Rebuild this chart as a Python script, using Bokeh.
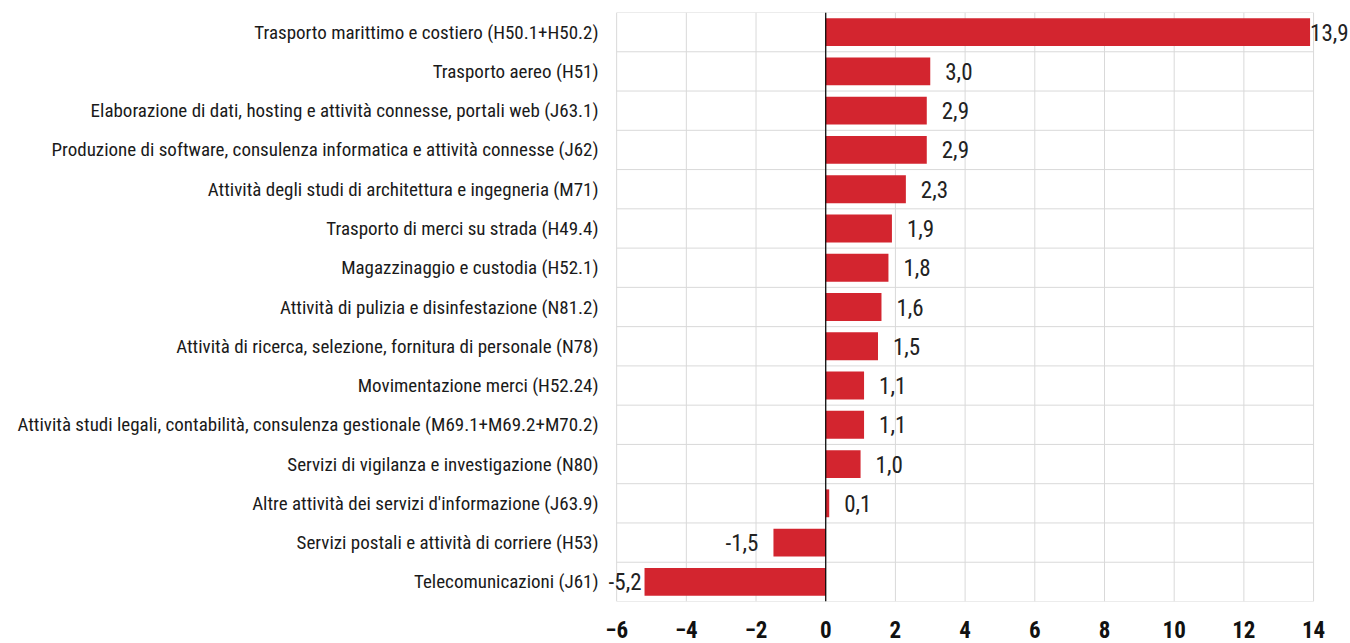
from bokeh.plotting import figure
from bokeh.models import Range1d, FixedTicker, Span, ColumnDataSource, LabelSet
from bokeh.core.properties import value
from bokeh.embed import file_html
from bokeh.resources import INLINE

categories = [
    "Trasporto marittimo e costiero (H50.1+H50.2)",
    "Trasporto aereo (H51)",
    "Elaborazione di dati, hosting e attività connesse, portali web (J63.1)",
    "Produzione di software, consulenza informatica e attività connesse (J62)",
    "Attività degli studi di architettura e ingegneria (M71)",
    "Trasporto di merci su strada (H49.4)",
    "Magazzinaggio e custodia (H52.1)",
    "Attività di pulizia e disinfestazione (N81.2)",
    "Attività di ricerca, selezione, fornitura di personale (N78)",
    "Movimentazione merci (H52.24)",
    "Attività studi legali, contabilità, consulenza gestionale (M69.1+M69.2+M70.2)",
    "Servizi di vigilanza e investigazione (N80)",
    "Altre attività dei servizi d'informazione (J63.9)",
    "Servizi postali e attività di corriere (H53)",
    "Telecomunicazioni (J61)",
]
values = [13.9, 3.0, 2.9, 2.9, 2.3, 1.9, 1.8, 1.6, 1.5, 1.1, 1.1, 1.0, 0.1, -1.5, -5.2]
x_ticks = [-6, -4, -2, 0, 2, 4, 6, 8, 10, 12, 14]

FONT = "Roboto Condensed"
n = len(categories)
ypos = [i + 0.5 for i in range(n)]
labels = [f"{v:.1f}".replace(".", ",") for v in values]

pos = dict(y=[], v=[], lab=[], off=[])
neg = dict(y=[], v=[], lab=[], off=[])
for y, v, lab in zip(ypos, values, labels):
    d = pos if v >= 0 else neg
    d["y"].append(y)
    d["v"].append(v)
    d["lab"].append(lab)
    if v >= 0:
        d["off"].append(0 if v > 13 else 15)
    else:
        d["off"].append(-3 if v < -5 else -15)

src = ColumnDataSource(dict(y=ypos, v=values))
psrc = ColumnDataSource(pos)
nsrc = ColumnDataSource(neg)

p = figure(width=1350, height=643, output_backend="svg", toolbar_location=None,
           x_range=Range1d(-6.32, 15.06), y_range=Range1d(n, 0),
           min_border_left=605, min_border_right=0, min_border_top=12, min_border_bottom=42)
p.outline_line_color = None
p.background_fill_color = "white"

# horizontal category separators (grid) spanning -6..14
sep = list(range(n + 1))
p.segment(x0=[x_ticks[0]] * len(sep), x1=[x_ticks[-1]] * len(sep), y0=sep, y1=sep,
          line_color="#d9d9d9", line_width=1)
# vertical grid lines spanning the category block
p.segment(x0=x_ticks, x1=x_ticks, y0=[0] * len(x_ticks), y1=[n] * len(x_ticks),
          line_color="#d9d9d9", line_width=1)

p.hbar(y="y", left=0, right="v", height=0.71, source=src, color="#d3252f", line_color=None)
p.add_layout(Span(location=0, dimension="height", line_color="black", line_width=1.2))
p.add_layout(LabelSet(x="v", y="y", text="lab", x_offset="off", source=psrc,
                      text_align="left", text_baseline="middle", text_font=value(FONT),
                      text_font_size="23px", text_color="#222222"))
p.add_layout(LabelSet(x="v", y="y", text="lab", x_offset="off", source=nsrc,
                      text_align="right", text_baseline="middle", text_font=value(FONT),
                      text_font_size="23px", text_color="#222222"))

# x axis
p.xaxis.ticker = FixedTicker(ticks=x_ticks)
p.xaxis.axis_line_color = None
p.xaxis.major_tick_line_color = None
p.xaxis.minor_tick_line_color = None
p.xaxis.major_label_text_font = FONT
p.xaxis.major_label_text_font_style = "bold"
p.xaxis.major_label_text_font_size = "23px"
p.xaxis.major_label_text_color = "#111111"
p.xaxis.major_label_standoff = 13
p.xgrid.grid_line_color = None

# y axis
p.yaxis.ticker = FixedTicker(ticks=ypos)
p.yaxis.major_label_overrides = {y: c for y, c in zip(ypos, categories)}
p.yaxis.axis_line_color = None
p.yaxis.major_tick_line_color = None
p.yaxis.minor_tick_line_color = None
p.yaxis.major_label_text_font = FONT
p.yaxis.major_label_text_font_size = "19px"
p.yaxis.major_label_text_color = "#1a1a1a"
p.yaxis.major_label_standoff = 1
p.ygrid.grid_line_color = None

open("out.html", "w").write(file_html(p, INLINE))
